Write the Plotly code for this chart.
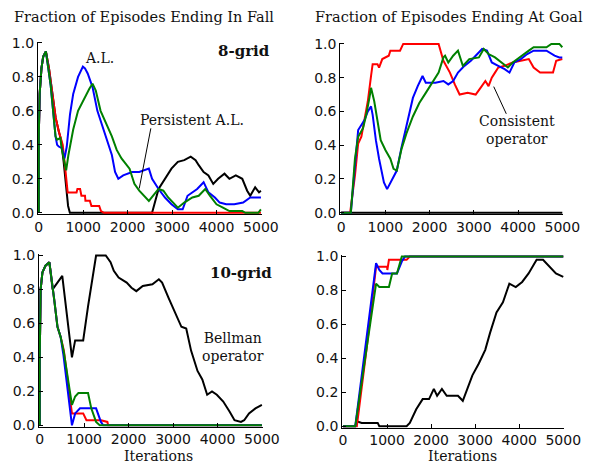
import plotly.graph_objects as go

# ---------------- DATA ----------------
ITER_TICKS = [0, 1000, 2000, 3000, 4000, 5000]
FRAC_TICKS = [0.0, 0.2, 0.4, 0.6, 0.8, 1.0]
FRAC_LABELS = ["0.0", "0.2", "0.4", "0.6", "0.8", "1.0"]

# Top-left: 8-grid, fraction ending in fall
tl_black_x = [0, 0, 20, 60, 100, 160, 230, 300, 380, 450, 500, 560, 600, 660, 700, 2550, 2696, 2841, 2986, 3130, 3274, 3420, 3529, 3600, 3710, 3818, 3927, 4036, 4180, 4290, 4435, 4580, 4690, 4760, 4870, 4957, 5000]
tl_black_y = [0, 0.45, 0.7, 0.85, 0.92, 0.95, 0.85, 0.70, 0.56, 0.48, 0.43, 0.30, 0.20, 0.04, 0.0, 0.0, 0.14, 0.20, 0.26, 0.30, 0.31, 0.33, 0.31, 0.28, 0.24, 0.22, 0.17, 0.20, 0.23, 0.20, 0.22, 0.20, 0.13, 0.10, 0.15, 0.12, 0.13]
tl_red_x = [0, 0, 20, 60, 100, 160, 230, 300, 380, 450, 500, 540, 600, 650, 850, 870, 930, 960, 1040, 1050, 1150, 1185, 1360, 1400, 1470, 5000]
tl_red_y = [0, 0.45, 0.7, 0.85, 0.92, 0.95, 0.85, 0.70, 0.56, 0.48, 0.43, 0.40, 0.25, 0.12, 0.12, 0.14, 0.14, 0.10, 0.10, 0.07, 0.07, 0.04, 0.04, 0.01, 0.0, 0.0]
tl_blue_x = [0, 0, 20, 60, 100, 160, 268, 340, 377, 413, 449, 521, 580, 630, 703, 775, 884, 993, 1040, 1101, 1210, 1319, 1428, 1536, 1645, 1717, 1790, 1900, 2000, 2100, 2261, 2478, 2550, 2696, 2841, 2986, 3130, 3239, 3348, 3565, 3710, 3818, 3964, 4072, 4217, 4400, 4600, 4760, 4870, 5000]
tl_blue_y = [0, 0.45, 0.7, 0.85, 0.92, 0.95, 0.75, 0.54, 0.45, 0.40, 0.39, 0.38, 0.32, 0.39, 0.58, 0.70, 0.80, 0.86, 0.85, 0.82, 0.74, 0.60, 0.51, 0.43, 0.34, 0.24, 0.20, 0.22, 0.23, 0.24, 0.24, 0.26, 0.20, 0.14, 0.09, 0.05, 0.02, 0.02, 0.10, 0.14, 0.18, 0.12, 0.09, 0.06, 0.05, 0.05, 0.06, 0.09, 0.09, 0.09]
tl_green_x = [0, 0, 20, 60, 100, 160, 268, 340, 377, 413, 485, 521, 594, 616, 667, 775, 884, 1029, 1138, 1210, 1283, 1391, 1536, 1645, 1754, 1862, 2043, 2152, 2261, 2370, 2478, 2696, 2804, 2913, 3130, 3274, 3457, 3600, 3746, 3855, 4000, 4145, 4290, 4580, 4650, 4940, 5000]
tl_green_y = [0, 0.45, 0.7, 0.85, 0.92, 0.95, 0.75, 0.54, 0.45, 0.43, 0.44, 0.37, 0.28, 0.25, 0.34, 0.49, 0.60, 0.68, 0.73, 0.76, 0.72, 0.60, 0.52, 0.45, 0.37, 0.32, 0.26, 0.17, 0.13, 0.10, 0.07, 0.14, 0.13, 0.09, 0.03, 0.06, 0.09, 0.10, 0.14, 0.10, 0.05, 0.03, 0.01, 0.01, 0.0, 0.0, 0.02]

# Top-right: 8-grid, fraction ending at goal
tr_black_x = [0, 5000]
tr_black_y = [0.0, 0.0]
tr_red_x = [0, 204, 313, 386, 458, 531, 604, 677, 713, 822, 858, 931, 1077, 1113, 1332, 1404, 2204, 2313, 2460, 2570, 2679, 2860, 3042, 3152, 3261, 3333, 3406, 3479, 3552, 3697, 3879, 4061, 4243, 4352, 4498, 4790, 4862, 5000]
tr_red_y = [0, 0, 0.22, 0.41, 0.45, 0.55, 0.66, 0.81, 0.88, 0.88, 0.86, 0.91, 0.93, 0.96, 0.96, 1.0, 1.0, 0.90, 0.83, 0.76, 0.70, 0.71, 0.70, 0.74, 0.78, 0.75, 0.80, 0.83, 0.86, 0.87, 0.89, 0.90, 0.91, 0.86, 0.83, 0.83, 0.90, 0.91]
tr_blue_x = [0, 220, 313, 386, 458, 531, 604, 677, 713, 786, 858, 968, 1040, 1150, 1259, 1368, 1514, 1623, 1732, 1841, 1914, 2132, 2314, 2423, 2533, 2642, 2788, 2933, 3042, 3188, 3297, 3406, 3552, 3697, 3806, 3915, 4061, 4207, 4352, 4643, 4825, 4934, 5000]
tr_blue_y = [0, 0, 0.28, 0.49, 0.52, 0.55, 0.60, 0.63, 0.58, 0.43, 0.32, 0.18, 0.14, 0.20, 0.25, 0.39, 0.55, 0.68, 0.75, 0.81, 0.77, 0.77, 0.78, 0.76, 0.78, 0.83, 0.87, 0.90, 0.93, 0.97, 0.96, 0.89, 0.87, 0.85, 0.83, 0.89, 0.91, 0.94, 0.96, 0.96, 0.93, 0.92, 0.92]
tr_green_x = [0, 220, 313, 386, 495, 568, 640, 677, 749, 822, 895, 1004, 1113, 1186, 1259, 1368, 1477, 1623, 1768, 1914, 2059, 2204, 2313, 2350, 2423, 2533, 2642, 2752, 2897, 3115, 3224, 3333, 3479, 3624, 3770, 3879, 4024, 4134, 4243, 4352, 4643, 4752, 4934, 5000]
tr_green_y = [0, 0, 0.32, 0.45, 0.50, 0.58, 0.68, 0.74, 0.66, 0.53, 0.43, 0.37, 0.32, 0.26, 0.25, 0.38, 0.47, 0.57, 0.65, 0.71, 0.77, 0.83, 0.92, 0.93, 0.89, 0.93, 0.96, 0.87, 0.91, 0.92, 0.97, 0.94, 0.92, 0.89, 0.86, 0.89, 0.92, 0.94, 0.96, 0.98, 0.98, 1.0, 1.0, 0.98]

# Bottom-left: 10-grid, fraction ending in fall
bl_black_x = [0, 0, 20, 60, 130, 217, 290, 400, 507, 725, 797, 978, 1087, 1268, 1486, 1594, 1667, 1775, 1957, 2065, 2174, 2319, 2536, 2681, 2754, 2899, 3043, 3188, 3297, 3406, 3551, 3659, 3768, 3877, 3986, 4130, 4275, 4384, 4529, 4601, 4710, 4855, 5000]
bl_black_y = [0, 0.4, 0.8, 0.9, 0.94, 0.96, 0.80, 0.84, 0.88, 0.40, 0.50, 0.50, 0.70, 1.0, 1.0, 0.96, 0.91, 0.87, 0.84, 0.81, 0.79, 0.82, 0.83, 0.86, 0.84, 0.75, 0.66, 0.58, 0.57, 0.44, 0.32, 0.27, 0.18, 0.20, 0.18, 0.14, 0.08, 0.03, 0.02, 0.03, 0.07, 0.10, 0.12]
bl_red_x = [0, 0, 20, 60, 130, 217, 326, 399, 471, 543, 725, 978, 1051, 1377, 1522, 1540, 5000]
bl_red_y = [0, 0.4, 0.8, 0.9, 0.94, 0.96, 0.74, 0.58, 0.52, 0.44, 0.07, 0.07, 0.03, 0.03, 0.02, 0.0, 0.0]
bl_blue_x = [0, 0, 20, 60, 130, 217, 326, 399, 471, 530, 725, 797, 906, 1268, 1377, 1430, 5000]
bl_blue_y = [0, 0.4, 0.8, 0.9, 0.94, 0.96, 0.74, 0.58, 0.52, 0.42, 0.0, 0.07, 0.10, 0.10, 0.02, 0.0, 0.0]
bl_green_x = [0, 0, 20, 60, 130, 217, 326, 399, 471, 543, 725, 797, 870, 1087, 1160, 1268, 1350, 5000]
bl_green_y = [0, 0.4, 0.8, 0.9, 0.94, 0.96, 0.74, 0.58, 0.52, 0.43, 0.12, 0.17, 0.19, 0.19, 0.10, 0.02, 0.0, 0.0]

# Bottom-right: 10-grid, fraction ending at goal
br_black_x = [0, 277, 313, 423, 787, 824, 1443, 1516, 1662, 1808, 1953, 2062, 2136, 2245, 2354, 2609, 2719, 2828, 2937, 3083, 3229, 3338, 3484, 3630, 3776, 3921, 4067, 4213, 4395, 4541, 4687, 4833, 5000]
br_black_y = [0, 0, 0.03, 0.02, 0.02, 0.0, 0.0, 0.02, 0.10, 0.16, 0.16, 0.22, 0.18, 0.22, 0.18, 0.18, 0.15, 0.22, 0.30, 0.37, 0.45, 0.55, 0.67, 0.73, 0.84, 0.82, 0.85, 0.90, 0.98, 0.98, 0.94, 0.90, 0.88]
br_red_x = [0, 313, 532, 750, 1000, 1006, 1042, 1443, 1516, 5000]
br_red_y = [0, 0, 0.45, 0.94, 0.94, 0.92, 0.98, 0.98, 1.0, 1.0]
br_blue_x = [0, 277, 750, 824, 896, 1224, 1334, 1406, 5000]
br_blue_y = [0, 0, 0.96, 0.92, 0.90, 0.90, 0.97, 1.0, 1.0]
br_green_x = [0, 277, 750, 824, 1042, 1115, 1224, 1334, 5000]
br_green_y = [0, 0, 0.84, 0.82, 0.82, 0.90, 0.90, 1.0, 1.0]

# ---------------- FIGURE ----------------
W, H = 616, 476
fig = go.Figure()

XPAD, YPAD = 20, 0.008
panels = {
    # name: (axis suffix, px of x=0, x=5000, y=0, y=1)
    "tl": ("", 36, 266, 212, 37),
    "tr": ("2", 349, 578, 212, 38),
    "bl": ("3", 37, 267, 431, 256),
    "br": ("4", 351, 579, 432, 257),
}
series = {
    "tl": [(tl_black_x, tl_black_y, "black"), (tl_red_x, tl_red_y, "red"), (tl_blue_x, tl_blue_y, "blue"), (tl_green_x, tl_green_y, "green")],
    "tr": [(tr_black_x, tr_black_y, "black"), (tr_red_x, tr_red_y, "red"), (tr_blue_x, tr_blue_y, "blue"), (tr_green_x, tr_green_y, "green")],
    "bl": [(bl_black_x, bl_black_y, "black"), (bl_red_x, bl_red_y, "red"), (bl_blue_x, bl_blue_y, "blue"), (bl_green_x, bl_green_y, "green")],
    "br": [(br_black_x, br_black_y, "black"), (br_red_x, br_red_y, "red"), (br_blue_x, br_blue_y, "blue"), (br_green_x, br_green_y, "green")],
}

tickfont = dict(family="DejaVu Sans", size=14, color="#111")
for key, (suf, x0, x1, y0, y1) in panels.items():
    sx = (x1 - x0) / 5000.0
    xd = [(x0 - XPAD * sx) / W, (x1 + XPAD * sx) / W]
    sy = (y0 - y1)
    yd = [1 - (y0 + YPAD * sy) / H, 1 - (y1 - YPAD * sy) / H]
    common = dict(showline=True, linecolor="black", linewidth=1, showgrid=False, zeroline=False,
                  ticks="inside", ticklen=4, tickcolor="black", tickfont=tickfont)
    fig.update_layout(**{
        "xaxis" + suf: dict(domain=xd, range=[-XPAD, 5000 + XPAD], tickvals=ITER_TICKS,
                            anchor="y" + suf, **common),
        "yaxis" + suf: dict(domain=yd, range=[-YPAD, 1 + YPAD], tickvals=FRAC_TICKS, ticktext=FRAC_LABELS,
                            anchor="x" + suf, **common),
    })
    for xs, ys, col in series[key]:
        fig.add_trace(go.Scatter(x=xs, y=ys, mode="lines", line=dict(color=col, width=2),
                                 xaxis="x" + suf, yaxis="y" + suf, showlegend=False, hoverinfo="skip"))

serif = "DejaVu Serif"
ann = []
def A(text, x, y, xref, yref, size=14, bold=False, **kw):
    t = "<b>%s</b>" % text if bold else text
    ann.append(dict(text=t, x=x, y=y, xref=xref, yref=yref, showarrow=False,
                    xanchor="center", yanchor="middle",
                    font=dict(family=serif, size=size, color="#111"), **kw))

A("Fraction of Episodes Ending In Fall", 145 / W, 1 - 10 / H, "paper", "paper", size=14.5)
A("Fraction of Episodes Ending At Goal", 461 / W, 1 - 10 / H, "paper", "paper", size=14.5)
A("Iterations", 160 / W, 1 - 463 / H, "paper", "paper", size=14)
A("Iterations", 475 / W, 1 - 463 / H, "paper", "paper", size=14)
A("A.L.", 1370, 0.914, "x", "y")
A("8-grid", 4630, 0.954, "x", "y", size=15, bold=True)
A("Persistent A.L.", 3457, 0.549, "x", "y")
A("10-grid", 4522, 0.897, "x3", "y3", size=15, bold=True)
A("Bellman<br>operator", 4348, 0.463, "x3", "y3")
A("Consistent<br>operator", 3974, 0.489, "x2", "y2")
fig.update_layout(annotations=ann)

fig.add_shape(type="line", xref="x", yref="y", x0=2522, y0=0.497, x1=2261, y1=0.143, line=dict(color="black", width=1))
fig.add_shape(type="line", xref="x2", yref="y2", x0=3734, y0=0.586, x1=3450, y1=0.747, line=dict(color="black", width=1))

fig.update_layout(width=W, height=H, margin=dict(l=0, r=0, t=0, b=0),
                  paper_bgcolor="white", plot_bgcolor="white", hovermode=False)
fig.write_html("out.html", config={"displayModeBar": False, "staticPlot": True},
               post_script="document.body.style.margin='0px';document.body.style.overflow='hidden';")
